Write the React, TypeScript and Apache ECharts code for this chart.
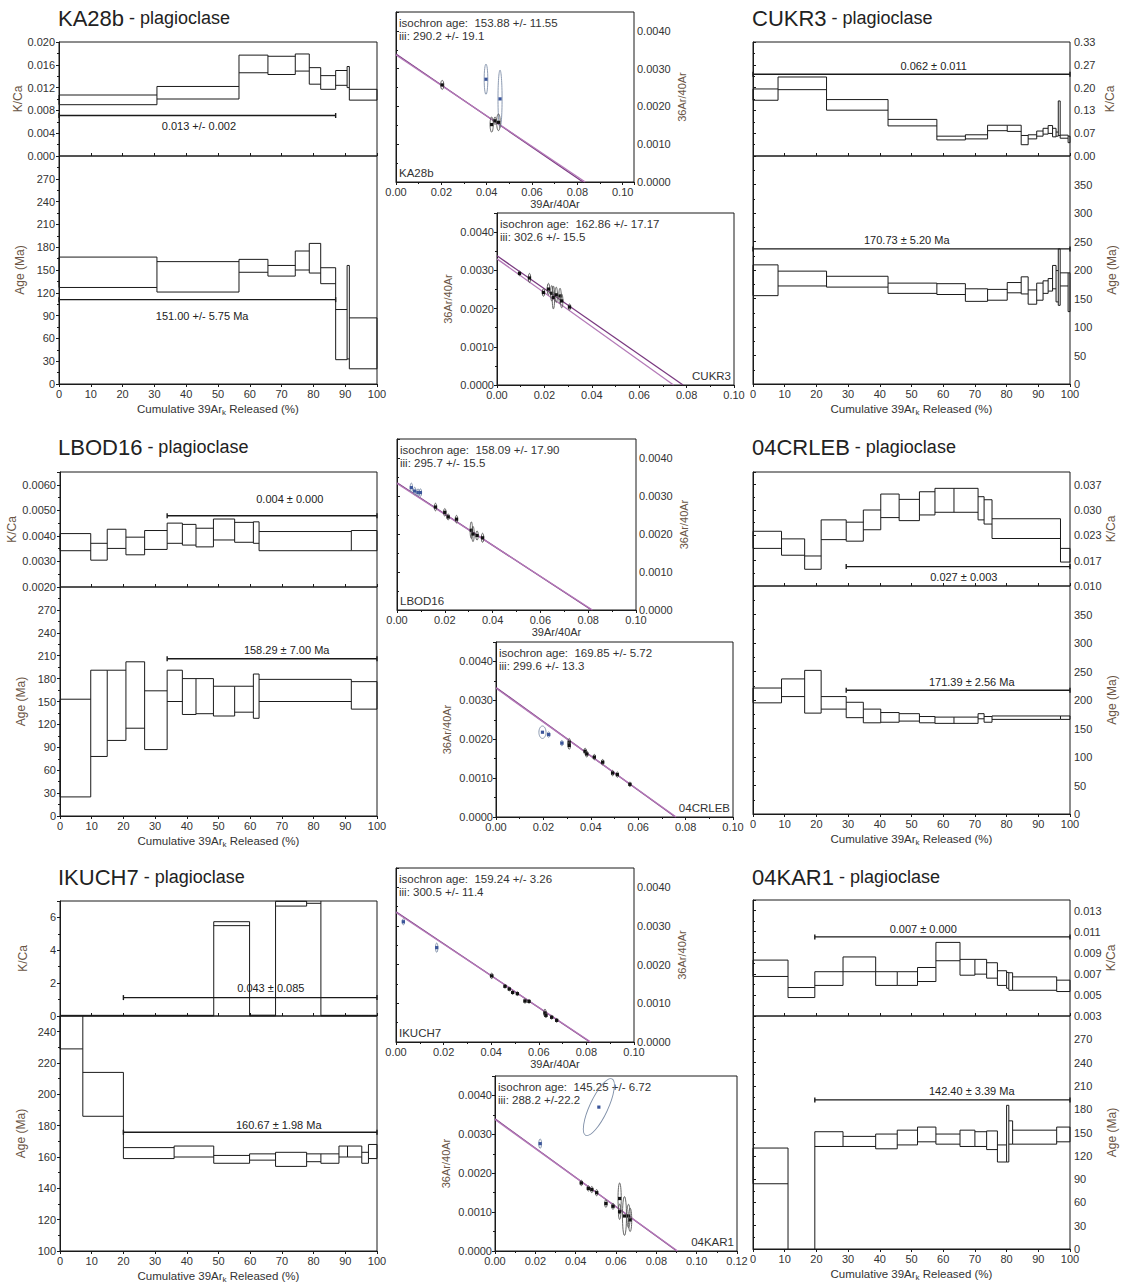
import React, { useEffect, useRef } from 'react';
import * as echarts from 'echarts';

const FONT = '"Liberation Sans", Arial, Helvetica, sans-serif';
const INK = '#1a1a1a';
const LABEL = '#333333';
const NAMEC = '#6a5545';

// ---------------- KA28b ----------------
const KA28B_BOUNDS = [0, 30.8, 56.6, 65.7, 74.3, 78.7, 82.3, 87.0, 90.6, 91.3, 100];
const KA28B_KCA_LO = [0.009, 0.01, 0.0146, 0.0143, 0.0149, 0.0126, 0.0117, 0.0124, 0.012, 0.0098];
const KA28B_KCA_HI = [0.0107, 0.0122, 0.0177, 0.0175, 0.0179, 0.0155, 0.0141, 0.015, 0.0157, 0.0117];
const KA28B_AGE_LO = [127, 121, 147, 142, 150, 146, 132, 32, 33, 20];
const KA28B_AGE_HI = [167, 161, 164, 156, 175, 185, 153, 98, 156, 87];
const KA28B_KCA_PLATEAU = [0, 87, 0.0071];
const KA28B_AGE_PLATEAU = [0, 87, 111];
const KA28B_KCA_LABEL = ['0.013 +/- 0.002', 44, 0.0052];
const KA28B_AGE_LABEL = ['151.00 +/- 5.75 Ma', 45, 89];
const KA28B_ISO_X = [0.0204, 0.0397, 0.0459, 0.0422, 0.0437, 0.0452];
const KA28B_ISO_Y = [0.00257, 0.00272, 0.0022, 0.00152, 0.00162, 0.00158];
const KA28B_ISO_EX = [0.0007, 0.0008, 0.0009, 0.0007, 0.0005, 0.0008];
const KA28B_ISO_EY = [0.00012, 0.0004, 0.00076, 0.0002, 0.0001, 0.00022];
const KA28B_ISO_EXCL = [1, 2];
const KA28B_ISO_LINES = [[0.00339, 0.0825], [0.00336, 0.0835]];
const KA28B_ISO_TEXT = ['isochron age:  153.88 +/- 11.55', 'iii: 290.2 +/- 19.1'];

// ---------------- CUKR3 ----------------
const CUKR3_BOUNDS = [0, 7.9, 23.2, 42.6, 58, 67, 74, 80.2, 84.6, 86.8, 89.5, 91.5, 93.1, 94.5, 95.6, 96.3, 96.9, 99.4, 100];
const CUKR3_KCA_LO = [0.163, 0.194, 0.134, 0.088, 0.047, 0.05, 0.074, 0.072, 0.033, 0.05, 0.058, 0.064, 0.066, 0.056, 0.058, 0.06, 0.052, 0.039];
const CUKR3_KCA_HI = [0.196, 0.231, 0.165, 0.107, 0.058, 0.062, 0.09, 0.09, 0.06, 0.062, 0.073, 0.081, 0.089, 0.081, 0.07, 0.161, 0.061, 0.058];
const CUKR3_AGE_LO = [155, 172, 170, 159, 157, 145, 147, 160, 158, 140, 147, 159, 163, 167, 144, 138, 172, 127];
const CUKR3_AGE_HI = [209, 198, 189, 177, 176, 167, 166, 178, 188, 165, 177, 181, 185, 208, 199, 237, 195, 195];
const CUKR3_KCA_PLATEAU = [0, 100, 0.239];
const CUKR3_AGE_PLATEAU = [0, 100, 237];
const CUKR3_KCA_LABEL = ['0.062 ± 0.011', 57, 0.263];
const CUKR3_AGE_LABEL = ['170.73 ± 5.20 Ma', 48.5, 252];
const CUKR3_ISO_X = [0.0095, 0.0137, 0.0196, 0.0217, 0.0231, 0.0238, 0.025, 0.0266, 0.0273, 0.0306];
const CUKR3_ISO_Y = [0.00292, 0.0028, 0.00242, 0.00251, 0.0024, 0.00229, 0.00236, 0.00233, 0.0022, 0.00204];
const CUKR3_ISO_EX = [0.0003, 0.0003, 0.0003, 0.0003, 0.0003, 0.0003, 0.0003, 0.0003, 0.0003, 0.0003];
const CUKR3_ISO_EY = [0.00006, 0.00012, 0.0001, 0.00015, 0.0002, 0.0003, 0.0002, 0.0002, 0.00018, 0.00008];
const CUKR3_ISO_EXCL: number[] = [];
const CUKR3_ISO_LINES = [[0.00338, 0.0785], [0.0033, 0.0745]];
const CUKR3_ISO_TEXT = ['isochron age:  162.86 +/- 17.17', 'iii: 302.6 +/- 15.5'];

// ---------------- LBOD16 ----------------
const LBOD16_BOUNDS = [0, 9.7, 14.9, 20.8, 26.7, 33.8, 38.6, 42.9, 48.4, 55.1, 61.0, 62.8, 91.9, 100];
const LBOD16_KCA_LO = [0.00342, 0.00305, 0.00351, 0.00326, 0.00347, 0.00371, 0.00364, 0.00357, 0.00384, 0.00375, 0.00371, 0.00342, 0.00342];
const LBOD16_KCA_HI = [0.00409, 0.00371, 0.00426, 0.00395, 0.00421, 0.0045, 0.00445, 0.0043, 0.00466, 0.00453, 0.00455, 0.00417, 0.00421];
const LBOD16_AGE_LO = [25, 78, 99, 115, 87, 150, 133, 134, 131, 136, 128, 150, 140];
const LBOD16_AGE_HI = [153, 191, 191, 202, 164, 191, 180, 180, 170, 170, 186, 179, 176];
const LBOD16_KCA_PLATEAU = [33.8, 100, 0.00479];
const LBOD16_AGE_PLATEAU = [33.8, 100, 206];
const LBOD16_KCA_LABEL = ['0.004 ± 0.000', 72.5, 0.00546];
const LBOD16_AGE_LABEL = ['158.29 ± 7.00 Ma', 71.5, 217];
const LBOD16_ISO_X = [0.006, 0.0074, 0.0088, 0.0098, 0.0161, 0.02, 0.0214, 0.0249, 0.0311, 0.0318, 0.0335, 0.0358];
const LBOD16_ISO_Y = [0.00322, 0.00313, 0.00309, 0.00309, 0.00271, 0.00257, 0.00245, 0.00239, 0.0021, 0.002, 0.00196, 0.0019];
const LBOD16_ISO_EX = [0.0004, 0.0004, 0.0004, 0.0004, 0.0004, 0.0004, 0.0004, 0.0004, 0.0005, 0.0005, 0.0004, 0.0004];
const LBOD16_ISO_EY = [0.00012, 0.0001, 0.0001, 0.0001, 0.0001, 0.0001, 0.00008, 0.0001, 0.00022, 0.0002, 0.00012, 0.00012];
const LBOD16_ISO_EXCL = [0, 1, 2, 3];
const LBOD16_ISO_LINES = [[0.00335, 0.0814], [0.00333, 0.0818]];
const LBOD16_ISO_TEXT = ['isochron age:  158.09 +/- 17.90', 'iii: 295.7 +/- 15.5'];

// ---------------- 04CRLEB ----------------
const CRLEB_BOUNDS = [0, 9, 16.3, 21.5, 29.4, 34.8, 40.3, 46.1, 52.5, 57.4, 63.4, 71, 72.9, 75.4, 97, 100];
const CRLEB_KCA_LO = [0.0199, 0.0181, 0.0144, 0.0222, 0.0218, 0.0248, 0.028, 0.0272, 0.0287, 0.0294, 0.0294, 0.0274, 0.0263, 0.0225, 0.0163];
const CRLEB_KCA_HI = [0.0244, 0.0224, 0.0179, 0.0274, 0.0268, 0.03, 0.0342, 0.0328, 0.0348, 0.0357, 0.0357, 0.0335, 0.0327, 0.0277, 0.0199];
const CRLEB_AGE_LO = [195, 206, 177, 184, 169, 160, 161, 163, 160, 159, 159, 167, 161, 166, 166];
const CRLEB_AGE_HI = [221, 237, 252, 206, 196, 184, 178, 176, 171, 170, 170, 176, 171, 172, 172];
const CRLEB_KCA_PLATEAU = [29.4, 100, 0.0151];
const CRLEB_AGE_PLATEAU = [29.4, 100, 217];
const CRLEB_KCA_LABEL = ['0.027 ± 0.003', 66.5, 0.0124];
const CRLEB_AGE_LABEL = ['171.39 ± 2.56 Ma', 69, 231];
const CRLEB_ISO_X = [0.0196, 0.0222, 0.0278, 0.0309, 0.0309, 0.0376, 0.0383, 0.0415, 0.045, 0.0492, 0.0512, 0.0565];
const CRLEB_ISO_Y = [0.00218, 0.00212, 0.0019, 0.00192, 0.00184, 0.00169, 0.00162, 0.00154, 0.00141, 0.00113, 0.00109, 0.00084];
const CRLEB_ISO_EX = [0.0015, 0.0006, 0.0005, 0.0005, 0.0005, 0.0005, 0.0005, 0.0005, 0.0005, 0.0005, 0.0005, 0.0004];
const CRLEB_ISO_EY = [0.00016, 0.00007, 0.00007, 0.0001, 0.0001, 0.00008, 0.00008, 0.00007, 0.00007, 0.00007, 0.00007, 0.00006];
const CRLEB_ISO_EXCL = [0, 1, 2];
const CRLEB_ISO_LINES = [[0.00333, 0.0757], [0.00331, 0.076]];
const CRLEB_ISO_TEXT = ['isochron age:  169.85 +/- 5.72', 'iii: 299.6 +/- 13.3'];

// ---------------- IKUCH7 ----------------
const IKUCH7_BOUNDS = [0, 7.2, 20, 36, 48.5, 59.8, 68, 77.8, 82.3, 88, 90.7, 95.2, 97.3, 100];
const IKUCH7_KCA_LO = [0.01, 0.01, 0.01, 0.01, 5.5, 0.01, 6.69, 6.86, 0.01, 0.01, 0.01, 0.01, 0.01];
const IKUCH7_KCA_HI = [0.04, 0.04, 0.04, 0.04, 5.74, 0.05, 6.98, 7.05, 0.04, 0.04, 0.04, 0.04, 0.04];
const IKUCH7_AGE_LO = [229, 186, 159, 160, 156, 158, 154, 157, 156, 160, 160, 156, 159];
const IKUCH7_AGE_HI = [275, 214, 166, 167, 161, 162, 163, 162, 162, 167, 167, 163, 168];
const IKUCH7_KCA_PLATEAU = [20, 100, 1.12];
const IKUCH7_AGE_PLATEAU = [20, 100, 175.8];
const IKUCH7_KCA_LABEL = ['0.043 ± 0.085', 66.5, 1.72];
const IKUCH7_AGE_LABEL = ['160.67 ± 1.98 Ma', 69, 180.7];
const IKUCH7_ISO_X = [0.0031, 0.0171, 0.0402, 0.0458, 0.0476, 0.049, 0.051, 0.0542, 0.0559, 0.0626, 0.063, 0.0654, 0.0675];
const IKUCH7_ISO_Y = [0.00311, 0.00244, 0.00171, 0.00144, 0.00137, 0.00128, 0.00125, 0.00106, 0.00105, 0.00075, 0.00069, 0.00064, 0.00056];
const IKUCH7_ISO_EX = [0.0004, 0.0002, 0.0006, 0.0004, 0.0004, 0.0004, 0.0004, 0.0004, 0.0004, 0.0004, 0.0004, 0.0004, 0.0004];
const IKUCH7_ISO_EY = [0.00008, 0.00012, 0.00007, 0.00005, 0.00005, 0.00005, 0.00005, 0.00006, 0.00005, 0.0001, 0.00006, 0.00005, 0.00005];
const IKUCH7_ISO_EXCL = [0, 1];
const IKUCH7_ISO_LINES = [[0.00337, 0.0815], [0.00335, 0.0818]];
const IKUCH7_ISO_TEXT = ['isochron age:  159.24 +/- 3.26', 'iii: 300.5 +/- 11.4'];

// ---------------- 04KAR1 ----------------
const KAR1_BOUNDS = [0, 11.05, 19.5, 28.4, 38.7, 45.5, 51.9, 57.7, 65.3, 70, 73.7, 77.1, 80, 80.7, 81.9, 95.8, 100];
const KAR1_KCA_LO = [0.00675, 0.00475, 0.0059, 0.0072, 0.0059, 0.0059, 0.00627, 0.00824, 0.00687, 0.00697, 0.00659, 0.0059, 0.00563, 0.00544, 0.00544, 0.00532];
const KAR1_KCA_HI = [0.0083, 0.0057, 0.0072, 0.0086, 0.0072, 0.0072, 0.0076, 0.00998, 0.00837, 0.00837, 0.00805, 0.00729, 0.00713, 0.0071, 0.00671, 0.0064];
const KAR1_AGE_LO = [84, -60, 132, 132, 129, 134, 138, 135, 132, 132, 128, 112, 112, 135, 135, 138];
const KAR1_AGE_HI = [130, -20, 151, 145, 148, 153, 157, 148, 153, 151, 152, 134, 185, 165, 153, 157];
const KAR1_KCA_PLATEAU = [19.5, 100, 0.0105];
const KAR1_AGE_PLATEAU = [19.5, 100, 192];
const KAR1_KCA_LABEL = ['0.007 ± 0.000', 53.7, 0.01125];
const KAR1_AGE_LABEL = ['142.40 ± 3.39 Ma', 69, 203];
const KAR1_ISO_X = [0.0224, 0.0428, 0.0463, 0.048, 0.0504, 0.055, 0.0585, 0.0618, 0.0618, 0.0642, 0.0662, 0.067, 0.0515];
const KAR1_ISO_Y = [0.00276, 0.00175, 0.00161, 0.00158, 0.0015, 0.00122, 0.00115, 0.00135, 0.00101, 0.0009, 0.0009, 0.0008, 0.0037];
const KAR1_ISO_EX = [0.0007, 0.0005, 0.0006, 0.0005, 0.0006, 0.0006, 0.0005, 0.0008, 0.0006, 0.001, 0.0008, 0.0008, 0.0045];
const KAR1_ISO_EY = [0.00012, 0.00007, 0.00007, 0.00008, 0.00008, 0.0001, 0.00008, 0.0004, 0.0002, 0.0005, 0.0003, 0.0003, 0.0008];
const KAR1_ISO_ROT = [0, 0, 0, 0, 0, 0, 0, 0, 0, 0, 0, 0, -25];
const KAR1_ISO_EXCL = [0, 12];
const KAR1_ISO_LINES = [[0.0034, 0.0902], [0.00338, 0.0905]];
const KAR1_ISO_TEXT = ['isochron age:  145.25 +/- 6.72', 'iii: 288.2 +/-22.2'];

// ---------------- axis scales ----------------
const KCA_AXES = [
  { min: 0, max: 0.02, interval: 0.004, dec: 3, showMax: true },
  { min: 0, max: 1 / 3, interval: 1 / 15, dec: 2, showMax: true },
  { min: 0.002, max: 0.0065, interval: 0.001, dec: 4, showMax: false },
  { min: 0.01, max: 0.04, interval: 1 / 150, dec: 3, showMax: false },
  { min: 0, max: 7, interval: 2, dec: 0, showMax: false },
  { min: 0.003, max: 0.014, interval: 0.002, dec: 3, showMax: false },
];
const AGE_AXES = [
  { min: 0, max: 300, interval: 30 },
  { min: 0, max: 400, interval: 50 },
  { min: 0, max: 300, interval: 30 },
  { min: 0, max: 400, interval: 50 },
  { min: 100, max: 250, interval: 20 },
  { min: 0, max: 300, interval: 30 },
];

// ---------------- layout ----------------
const LAYOUT = [
  { spec: { L: 59, R: 377, T: 42, D: 156, B: 384, side: 'left' }, title: [58, 18], iso: { L: 396, R: 634, T: 12, B: 182, side: 'right', xMax: 0.105, xName: true, tag: 'left' } },
  { spec: { L: 753, R: 1070, T: 42, D: 156, B: 384, side: 'right' }, title: [752, 18], iso: { L: 497, R: 734, T: 213, B: 385, side: 'left', xMax: 0.1, xName: false, tag: 'right' } },
  { spec: { L: 60, R: 377, T: 472, D: 587, B: 816, side: 'left' }, title: [58, 447], iso: { L: 397, R: 636, T: 439, B: 610, side: 'right', xMax: 0.1, xName: true, tag: 'left' } },
  { spec: { L: 753, R: 1070, T: 472, D: 586, B: 814, side: 'right' }, title: [752, 447], iso: { L: 496, R: 733, T: 642, B: 817, side: 'left', xMax: 0.1, xName: false, tag: 'right' } },
  { spec: { L: 60, R: 377, T: 901, D: 1016, B: 1251, side: 'left' }, title: [58, 877], iso: { L: 396, R: 634, T: 868, B: 1042, side: 'right', xMax: 0.1, xName: true, tag: 'left' } },
  { spec: { L: 753, R: 1070, T: 900, D: 1016, B: 1249, side: 'right' }, title: [752, 877], iso: { L: 495, R: 737, T: 1076, B: 1251, side: 'left', xMax: 0.12, xName: false, tag: 'right' } },
];

const SAMPLES = [
  { name: 'KA28b', bounds: KA28B_BOUNDS, kLo: KA28B_KCA_LO, kHi: KA28B_KCA_HI, aLo: KA28B_AGE_LO, aHi: KA28B_AGE_HI, kPl: KA28B_KCA_PLATEAU, aPl: KA28B_AGE_PLATEAU, kLab: KA28B_KCA_LABEL, aLab: KA28B_AGE_LABEL, ix: KA28B_ISO_X, iy: KA28B_ISO_Y, iex: KA28B_ISO_EX, iey: KA28B_ISO_EY, irot: null as number[] | null, iexcl: KA28B_ISO_EXCL, ilines: KA28B_ISO_LINES, itext: KA28B_ISO_TEXT },
  { name: 'CUKR3', bounds: CUKR3_BOUNDS, kLo: CUKR3_KCA_LO, kHi: CUKR3_KCA_HI, aLo: CUKR3_AGE_LO, aHi: CUKR3_AGE_HI, kPl: CUKR3_KCA_PLATEAU, aPl: CUKR3_AGE_PLATEAU, kLab: CUKR3_KCA_LABEL, aLab: CUKR3_AGE_LABEL, ix: CUKR3_ISO_X, iy: CUKR3_ISO_Y, iex: CUKR3_ISO_EX, iey: CUKR3_ISO_EY, irot: null, iexcl: CUKR3_ISO_EXCL, ilines: CUKR3_ISO_LINES, itext: CUKR3_ISO_TEXT },
  { name: 'LBOD16', bounds: LBOD16_BOUNDS, kLo: LBOD16_KCA_LO, kHi: LBOD16_KCA_HI, aLo: LBOD16_AGE_LO, aHi: LBOD16_AGE_HI, kPl: LBOD16_KCA_PLATEAU, aPl: LBOD16_AGE_PLATEAU, kLab: LBOD16_KCA_LABEL, aLab: LBOD16_AGE_LABEL, ix: LBOD16_ISO_X, iy: LBOD16_ISO_Y, iex: LBOD16_ISO_EX, iey: LBOD16_ISO_EY, irot: null, iexcl: LBOD16_ISO_EXCL, ilines: LBOD16_ISO_LINES, itext: LBOD16_ISO_TEXT },
  { name: '04CRLEB', bounds: CRLEB_BOUNDS, kLo: CRLEB_KCA_LO, kHi: CRLEB_KCA_HI, aLo: CRLEB_AGE_LO, aHi: CRLEB_AGE_HI, kPl: CRLEB_KCA_PLATEAU, aPl: CRLEB_AGE_PLATEAU, kLab: CRLEB_KCA_LABEL, aLab: CRLEB_AGE_LABEL, ix: CRLEB_ISO_X, iy: CRLEB_ISO_Y, iex: CRLEB_ISO_EX, iey: CRLEB_ISO_EY, irot: null, iexcl: CRLEB_ISO_EXCL, ilines: CRLEB_ISO_LINES, itext: CRLEB_ISO_TEXT },
  { name: 'IKUCH7', bounds: IKUCH7_BOUNDS, kLo: IKUCH7_KCA_LO, kHi: IKUCH7_KCA_HI, aLo: IKUCH7_AGE_LO, aHi: IKUCH7_AGE_HI, kPl: IKUCH7_KCA_PLATEAU, aPl: IKUCH7_AGE_PLATEAU, kLab: IKUCH7_KCA_LABEL, aLab: IKUCH7_AGE_LABEL, ix: IKUCH7_ISO_X, iy: IKUCH7_ISO_Y, iex: IKUCH7_ISO_EX, iey: IKUCH7_ISO_EY, irot: null, iexcl: IKUCH7_ISO_EXCL, ilines: IKUCH7_ISO_LINES, itext: IKUCH7_ISO_TEXT },
  { name: '04KAR1', bounds: KAR1_BOUNDS, kLo: KAR1_KCA_LO, kHi: KAR1_KCA_HI, aLo: KAR1_AGE_LO, aHi: KAR1_AGE_HI, kPl: KAR1_KCA_PLATEAU, aPl: KAR1_AGE_PLATEAU, kLab: KAR1_KCA_LABEL, aLab: KAR1_AGE_LABEL, ix: KAR1_ISO_X, iy: KAR1_ISO_Y, iex: KAR1_ISO_EX, iey: KAR1_ISO_EY, irot: KAR1_ISO_ROT, iexcl: KAR1_ISO_EXCL, ilines: KAR1_ISO_LINES, itext: KAR1_ISO_TEXT },
];

function buildSteps(bounds: number[], lo: number[], hi: number[]) {
  return lo.map((l, i) => [
    bounds[i], bounds[i + 1], l, hi[i],
    i > 0 ? lo[i - 1] : l, i > 0 ? hi[i - 1] : hi[i],
    i === lo.length - 1 ? 1 : 0,
  ]);
}

const renderStep = (params: any, api: any) => {
  const x0 = api.value(0), x1 = api.value(1), lo = api.value(2), hi = api.value(3);
  const plo = api.value(4), phi = api.value(5), last = api.value(6);
  const cs = params.coordSys;
  const top = cs.y, bot = cs.y + cs.height;
  const X0 = api.coord([x0, lo])[0];
  const X1 = api.coord([x1, lo])[0];
  const Y = (v: number) => api.coord([x0, v])[1];
  const cl = (y: number) => Math.min(bot, Math.max(top, y));
  const kids: any[] = [];
  const seg = (a: number, b: number, c: number, d: number) =>
    kids.push({ type: 'line', shape: { x1: a, y1: b, x2: c, y2: d }, style: { stroke: INK, lineWidth: 1 } });
  [lo, hi].forEach((v) => {
    const y = Y(v);
    if (y >= top - 0.5 && y <= bot + 0.5) seg(X0, y, X1, y);
  });
  const vert = (X: number, a: number, b: number) => {
    const y1 = cl(Y(Math.max(a, b)));
    const y2 = cl(Y(Math.min(a, b)));
    if (y2 - y1 > 0.3) seg(X, y1, X, y2);
  };
  vert(X0, Math.min(lo, plo), Math.max(hi, phi));
  if (last) vert(X1, lo, hi);
  return { type: 'group', children: kids };
};

const renderPlateau = (params: any, api: any) => {
  const a = api.coord([api.value(0), api.value(2)]);
  const b = api.coord([api.value(1), api.value(2)]);
  const st = { stroke: INK, lineWidth: 1.4 };
  return {
    type: 'group',
    children: [
      { type: 'line', shape: { x1: a[0], y1: a[1], x2: b[0], y2: b[1] }, style: st },
      { type: 'line', shape: { x1: a[0], y1: a[1] - 2.5, x2: a[0], y2: a[1] + 2.5 }, style: st },
      { type: 'line', shape: { x1: b[0], y1: b[1] - 2.5, x2: b[0], y2: b[1] + 2.5 }, style: st },
    ],
  };
};

const makeLabelRender = (text: string) => (params: any, api: any) => {
  const p = api.coord([api.value(0), api.value(1)]);
  return {
    type: 'text',
    x: p[0],
    y: p[1],
    style: { text, fontSize: 11, fontFamily: FONT, fill: '#222', align: 'center', verticalAlign: 'middle' },
  };
};

const renderIsoPoint = (params: any, api: any) => {
  const c = api.coord([api.value(0), api.value(1)]);
  const sz = api.size([api.value(2), api.value(3)]);
  const rot = api.value(4) || 0;
  const excl = api.value(5);
  return {
    type: 'group',
    children: [
      {
        type: 'ellipse',
        x: c[0],
        y: c[1],
        rotation: (rot * Math.PI) / 180,
        shape: { cx: 0, cy: 0, rx: Math.max(sz[0], 1.2), ry: Math.max(sz[1], 1.2) },
        style: { fill: 'none', stroke: excl ? '#7f8fa8' : '#555', lineWidth: 0.9 },
      },
      {
        type: 'rect',
        shape: { x: c[0] - 1.6, y: c[1] - 1.6, width: 3.2, height: 3.2 },
        style: { fill: excl ? '#3b559a' : '#111' },
      },
    ],
  };
};

const tickLabel = { fontSize: 11, color: LABEL, fontFamily: FONT };

function buildOption() {
  const grid: any[] = [];
  const xAxis: any[] = [];
  const yAxis: any[] = [];
  const series: any[] = [];
  const graphic: any[] = [];

  SAMPLES.forEach((s, i) => {
    const lay = LAYOUT[i];
    const sp = lay.spec;
    const iso = lay.iso;
    const g = i * 3;
    const gridBox = { show: true, borderColor: INK, borderWidth: 1, backgroundColor: 'transparent', containLabel: false };
    grid.push({ ...gridBox, left: sp.L, top: sp.T, width: sp.R - sp.L, height: sp.D - sp.T });
    grid.push({ ...gridBox, left: sp.L, top: sp.D, width: sp.R - sp.L, height: sp.B - sp.D });
    grid.push({ ...gridBox, left: iso.L, top: iso.T, width: iso.R - iso.L, height: iso.B - iso.T });

    // x axes
    xAxis.push({
      gridIndex: g, type: 'value', min: 0, max: 100, interval: 10,
      axisLine: { show: false }, axisLabel: { show: false }, splitLine: { show: false },
      axisTick: { show: true, inside: true, length: 3, lineStyle: { color: INK } },
    });
    xAxis.push({
      gridIndex: g + 1, type: 'value', min: 0, max: 100, interval: 10,
      axisLine: { show: true, lineStyle: { color: INK } },
      axisTick: { show: true, length: 3, lineStyle: { color: INK } },
      axisLabel: { ...tickLabel, margin: 4 },
      splitLine: { show: false },
      name: '{a|Cumulative 39Ar}{k|k}{a| Released (%)}',
      nameLocation: 'middle', nameGap: 17,
      nameTextStyle: {
        rich: {
          a: { fontSize: 11.5, color: LABEL, fontFamily: FONT },
          k: { fontSize: 8, color: LABEL, fontFamily: FONT, padding: [7, 0, 0, 0] },
        },
      },
    });
    xAxis.push({
      gridIndex: g + 2, type: 'value', min: 0, max: iso.xMax, interval: 0.02,
      axisLine: { show: true, lineStyle: { color: INK } },
      axisTick: { show: true, length: 3, lineStyle: { color: INK } },
      minorTick: { show: true, splitNumber: 2, length: 2, lineStyle: { color: INK } },
      axisLabel: { ...tickLabel, margin: 4, formatter: (v: number) => v.toFixed(2), showMaxLabel: iso.xMax !== 0.105 },
      splitLine: { show: false },
      name: iso.xName ? '39Ar/40Ar' : '',
      nameLocation: 'middle', nameGap: 16,
      nameTextStyle: { fontSize: 11, color: LABEL, fontFamily: FONT, padding: [0, 0, 0, 80] },
    });

    // y axes
    const ka = KCA_AXES[i];
    const aa = AGE_AXES[i];
    const yCommon = {
      type: 'value', position: sp.side,
      axisLine: { show: true, lineStyle: { color: INK } },
      axisTick: { show: true, length: 3, lineStyle: { color: INK } },
      minorTick: { show: true, splitNumber: 2, length: 2, lineStyle: { color: INK } },
      splitLine: { show: false },
      nameLocation: 'middle', nameRotate: 90,
      nameTextStyle: { fontSize: 12, color: NAMEC, fontFamily: FONT },
    };
    yAxis.push({
      ...yCommon, gridIndex: g, min: ka.min, max: ka.max, interval: ka.interval,
      axisLabel: { ...tickLabel, margin: 4, formatter: (v: number) => v.toFixed(ka.dec), showMaxLabel: ka.showMax, showMinLabel: true },
      name: 'K/Ca', nameGap: sp.side === 'left' ? 31 : 34,
    });
    yAxis.push({
      ...yCommon, gridIndex: g + 1, min: aa.min, max: aa.max, interval: aa.interval,
      axisLabel: { ...tickLabel, margin: 4, formatter: (v: number) => String(Math.round(v)), showMaxLabel: false, showMinLabel: true },
      name: 'Age (Ma)', nameGap: sp.side === 'left' ? 33 : 36,
    });
    yAxis.push({
      ...yCommon, gridIndex: g + 2, position: iso.side, min: 0, max: 0.0045, interval: 0.001,
      axisLabel: { ...tickLabel, margin: 3, formatter: (v: number) => v.toFixed(4), showMaxLabel: false },
      name: '36Ar/40Ar', nameGap: iso.side === 'left' ? 44 : 42,
      nameTextStyle: { fontSize: 11, color: NAMEC, fontFamily: FONT },
    });

    // spectrum boxes
    series.push({
      type: 'custom', xAxisIndex: g, yAxisIndex: g, renderItem: renderStep, silent: true,
      data: buildSteps(s.bounds, s.kLo, s.kHi),
    });
    series.push({
      type: 'custom', xAxisIndex: g + 1, yAxisIndex: g + 1, renderItem: renderStep, silent: true,
      data: buildSteps(s.bounds, s.aLo, s.aHi),
    });
    // plateaus
    series.push({ type: 'custom', xAxisIndex: g, yAxisIndex: g, renderItem: renderPlateau, silent: true, data: [s.kPl] });
    series.push({ type: 'custom', xAxisIndex: g + 1, yAxisIndex: g + 1, renderItem: renderPlateau, silent: true, data: [s.aPl] });
    series.push({
      type: 'custom', xAxisIndex: g, yAxisIndex: g, silent: true,
      renderItem: makeLabelRender(s.kLab[0] as string), data: [[s.kLab[1], s.kLab[2]]],
    });
    series.push({
      type: 'custom', xAxisIndex: g + 1, yAxisIndex: g + 1, silent: true,
      renderItem: makeLabelRender(s.aLab[0] as string), data: [[s.aLab[1], s.aLab[2]]],
    });

    // isochron lines
    s.ilines.forEach((ln, k) => {
      series.push({
        type: 'line', xAxisIndex: g + 2, yAxisIndex: g + 2, silent: true, showSymbol: false, symbol: 'none',
        data: [[0, ln[0]], [ln[1], 0]],
        lineStyle: { color: k === 0 ? '#7a3a80' : '#b47ab8', width: 1.3 },
        z: 3,
      });
    });
    // isochron points
    series.push({
      type: 'custom', xAxisIndex: g + 2, yAxisIndex: g + 2, silent: true, renderItem: renderIsoPoint, z: 4,
      data: s.ix.map((x, k) => [x, s.iy[k], s.iex[k], s.iey[k], s.irot ? s.irot[k] : 0, s.iexcl.indexOf(k) >= 0 ? 1 : 0]),
    });

    // texts
    graphic.push({
      type: 'text', x: lay.title[0], y: lay.title[1],
      style: {
        text: `{a|${s.name}}{b| - plagioclase}`,
        rich: {
          a: { fontSize: 22, fontFamily: FONT, fill: '#222' },
          b: { fontSize: 18, fontFamily: FONT, fill: '#222' },
        },
        verticalAlign: 'middle', textVerticalAlign: 'middle',
      },
    });
    graphic.push({
      type: 'text', x: iso.L + 3, y: iso.T + 11,
      style: { text: s.itext[0], fontSize: 11.5, fontFamily: FONT, fill: '#333', verticalAlign: 'middle', textVerticalAlign: 'middle' },
    });
    graphic.push({
      type: 'text', x: iso.L + 3, y: iso.T + 24,
      style: { text: s.itext[1], fontSize: 11.5, fontFamily: FONT, fill: '#333', verticalAlign: 'middle', textVerticalAlign: 'middle' },
    });
    const tagLeft = iso.tag === 'left';
    graphic.push({
      type: 'text', x: tagLeft ? iso.L + 3 : iso.R - 3, y: iso.B - 9,
      style: {
        text: s.name, fontSize: 11.5, fontFamily: FONT, fill: '#333',
        align: tagLeft ? 'left' : 'right', textAlign: tagLeft ? 'left' : 'right',
        verticalAlign: 'middle', textVerticalAlign: 'middle',
      },
    });
  });

  return {
    animation: false,
    backgroundColor: '#ffffff',
    textStyle: { fontFamily: FONT },
    grid, xAxis, yAxis, series, graphic,
  };
}

export default function App() {
  const ref = useRef<HTMLDivElement>(null);
  useEffect(() => {
    if (!ref.current) return;
    const chart = echarts.init(ref.current, null, { renderer: 'svg' });
    chart.setOption(buildOption() as any);
    return () => chart.dispose();
  }, []);
  return (
    <div
      ref={ref}
      style={{ position: 'absolute', left: 0, top: 0, width: 1122, height: 1284, background: '#fff' }}
    />
  );
}
